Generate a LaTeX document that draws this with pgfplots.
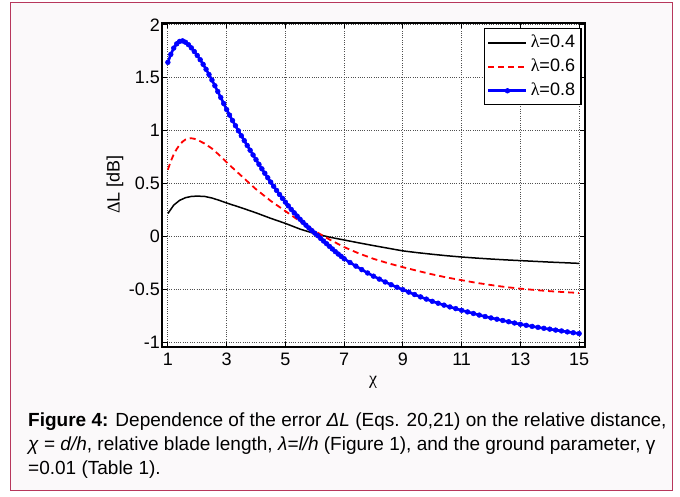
\documentclass[border=0pt]{standalone}
\usepackage{fontspec}
\setmainfont{Liberation Sans}
\newfontfamily\grk{Liberation Serif}
\usepackage{pgfplots}
\pgfplotsset{compat=1.18}
\definecolor{framecol}{RGB}{183,55,92}
\definecolor{bgcol}{RGB}{251,249,250}
\definecolor{gridcol}{RGB}{80,80,80}
\newcommand{\fs}{\fontsize{18bp}{21bp}\selectfont}
\newcommand{\fc}{\fontsize{19bp}{22bp}\selectfont}
\begin{document}
\begin{tikzpicture}[x=1bp,y=1bp]
\useasboundingbox (0,0) rectangle (680,497);
\fill[white] (0,0) rectangle (680,497);
\draw[framecol, line width=1.6bp, fill=bgcol] (10.5,6.5) rectangle (672.5,494.5);
\begin{axis}[
  at={(162bp,150.3bp)}, anchor=south west,
  width=423bp, height=324bp, scale only axis,
  xmin=0.8, xmax=15.2, ymin=-1.044, ymax=2.02,
  axis background/.style={fill=white},
  axis line style={line width=1.8bp, black},
  xtick={1,3,5,7,9,11,13,15},
  xticklabels={1,3,5,7,9,11,13,15},
  ytick={-1,-0.5,0,0.5,1,1.5,2},
  yticklabels={-1,-0.5,0,0.5,1,1.5,2},
  tick align=inside, major tick length=5bp,
  tick style={black, line width=1bp},
  grid=major,
  grid style={gridcol, line width=0.9bp, dash pattern=on 1bp off 1.3bp},
  ticklabel style={font=\fs},
  xticklabel shift=3bp,
  yticklabel shift=-1.5bp,
  xlabel={{\grk χ}}, ylabel={{\grk Δ}L [dB]},
  label style={font=\fs},
  xlabel style={at={(axis description cs:0.499,-0.111)}, anchor=center},
  ylabel style={at={(axis description cs:-0.111,0.5)}, anchor=center, rotate=0},
  legend style={at={(0.992,0.983)}, anchor=north east, draw=black, line width=1.2bp,
    fill=white, font=\fs, inner xsep=3bp, inner ysep=2bp,
    nodes={inner xsep=3bp, inner ysep=4bp, text height=13bp, text depth=3bp},
    row sep=0pt},
  legend cell align=left,
  legend image code/.code={\draw[mark repeat=2,mark phase=2,#1] plot coordinates {(0bp,0bp) (19bp,0bp) (38bp,0bp)};},
  clip=true,
]
\addplot[black, line width=1.5bp, no marks] table {
x y
1.0 0.215
1.2 0.295
1.4 0.34
1.6 0.365
1.8 0.377
2.0 0.38
2.25 0.377
2.5 0.362
2.75 0.34
3.0 0.315
3.5 0.27
4.0 0.222
4.5 0.17
5.0 0.122
5.5 0.068
6.0 0.025
6.5 -0.008
7.0 -0.035
7.5 -0.062
8.0 -0.088
8.5 -0.113
9.0 -0.138
9.5 -0.155
10 -0.17
10.5 -0.184
11 -0.196
11.5 -0.206
12 -0.215
12.5 -0.223
13 -0.23
13.5 -0.237
14 -0.244
14.5 -0.25
15 -0.256
};
\addlegendentry{{\grk λ}=0.4}
\addplot[red, line width=1.8bp, no marks, dash pattern=on 6bp off 4bp] table {
x y
1.0 0.63
1.1 0.71
1.2 0.775
1.3 0.825
1.4 0.865
1.5 0.895
1.6 0.915
1.7 0.925
1.8 0.927
1.9 0.922
2.0 0.912
2.25 0.877
2.5 0.83
2.75 0.768
3.0 0.70
3.25 0.635
3.5 0.572
3.75 0.508
4.0 0.445
4.5 0.335
5.0 0.238
5.5 0.142
6.0 0.05
6.5 -0.03
7.0 -0.102
7.5 -0.162
8.0 -0.213
8.5 -0.255
9.0 -0.292
9.5 -0.327
10 -0.36
10.5 -0.39
11 -0.415
11.5 -0.44
12 -0.461
12.5 -0.48
13 -0.495
13.5 -0.508
14 -0.519
14.5 -0.528
15 -0.536
};
\addlegendentry{{\grk λ}=0.6}
\addplot[blue, line width=2.6bp, mark=*, mark size=2.4bp, mark options={solid, line width=0.5bp}] table {
x y
1.0 1.645
1.1 1.72
1.2 1.78
1.3 1.82
1.4 1.843
1.5 1.848
1.6 1.835
1.7 1.812
1.8 1.782
1.9 1.747
2.0 1.71
2.1 1.67
2.2 1.626
2.3 1.579
2.4 1.53
2.5 1.478
2.6 1.424
2.7 1.369
2.8 1.313
2.9 1.256
3.0 1.199
3.1 1.146
3.2 1.095
3.3 1.046
3.4 0.998
3.5 0.951
3.6 0.905
3.7 0.859
3.8 0.814
3.9 0.769
4.0 0.725
4.1 0.681
4.2 0.638
4.3 0.596
4.4 0.554
4.5 0.513
4.6 0.473
4.7 0.434
4.8 0.396
4.9 0.359
5.0 0.323
5.1 0.288
5.2 0.254
5.3 0.222
5.4 0.191
5.5 0.161
5.6 0.132
5.7 0.105
5.8 0.079
5.9 0.054
6.0 0.03
6.1 0.006
6.2 -0.02
6.3 -0.045
6.4 -0.07
6.5 -0.095
6.6 -0.12
6.7 -0.145
6.8 -0.168
6.9 -0.19
7.0 -0.212
7.2 -0.248
7.4 -0.282
7.6 -0.315
7.8 -0.347
8.0 -0.377
8.2 -0.405
8.4 -0.432
8.6 -0.458
8.8 -0.482
9.0 -0.505
9.2 -0.528
9.4 -0.551
9.6 -0.573
9.8 -0.594
10.0 -0.615
10.2 -0.633
10.4 -0.651
10.6 -0.668
10.8 -0.684
11.0 -0.700
11.2 -0.715
11.4 -0.73
11.6 -0.745
11.8 -0.759
12.0 -0.772
12.2 -0.784
12.4 -0.796
12.6 -0.808
12.8 -0.82
13.0 -0.832
13.2 -0.842
13.4 -0.852
13.6 -0.861
13.8 -0.87
14.0 -0.878
14.2 -0.887
14.4 -0.895
14.6 -0.904
14.8 -0.912
15.0 -0.92
};
\addlegendentry{{\grk λ}=0.8}
\end{axis}
\node[anchor=base west, inner sep=0pt, font=\fc] at (28,70) {\textbf{Figure 4:} Dependence of the error \textit{ΔL} (Eqs. 20,21) on the relative distance,};
\node[anchor=base west, inner sep=0pt, font=\fc] at (28,46) {\textit{χ} = \textit{d/h}, relative blade length, \textit{λ=l/h} (Figure 1), and the ground parameter, γ};
\node[anchor=base west, inner sep=0pt, font=\fc] at (28,22) {=0.01 (Table 1).};
\end{tikzpicture}
\end{document}
